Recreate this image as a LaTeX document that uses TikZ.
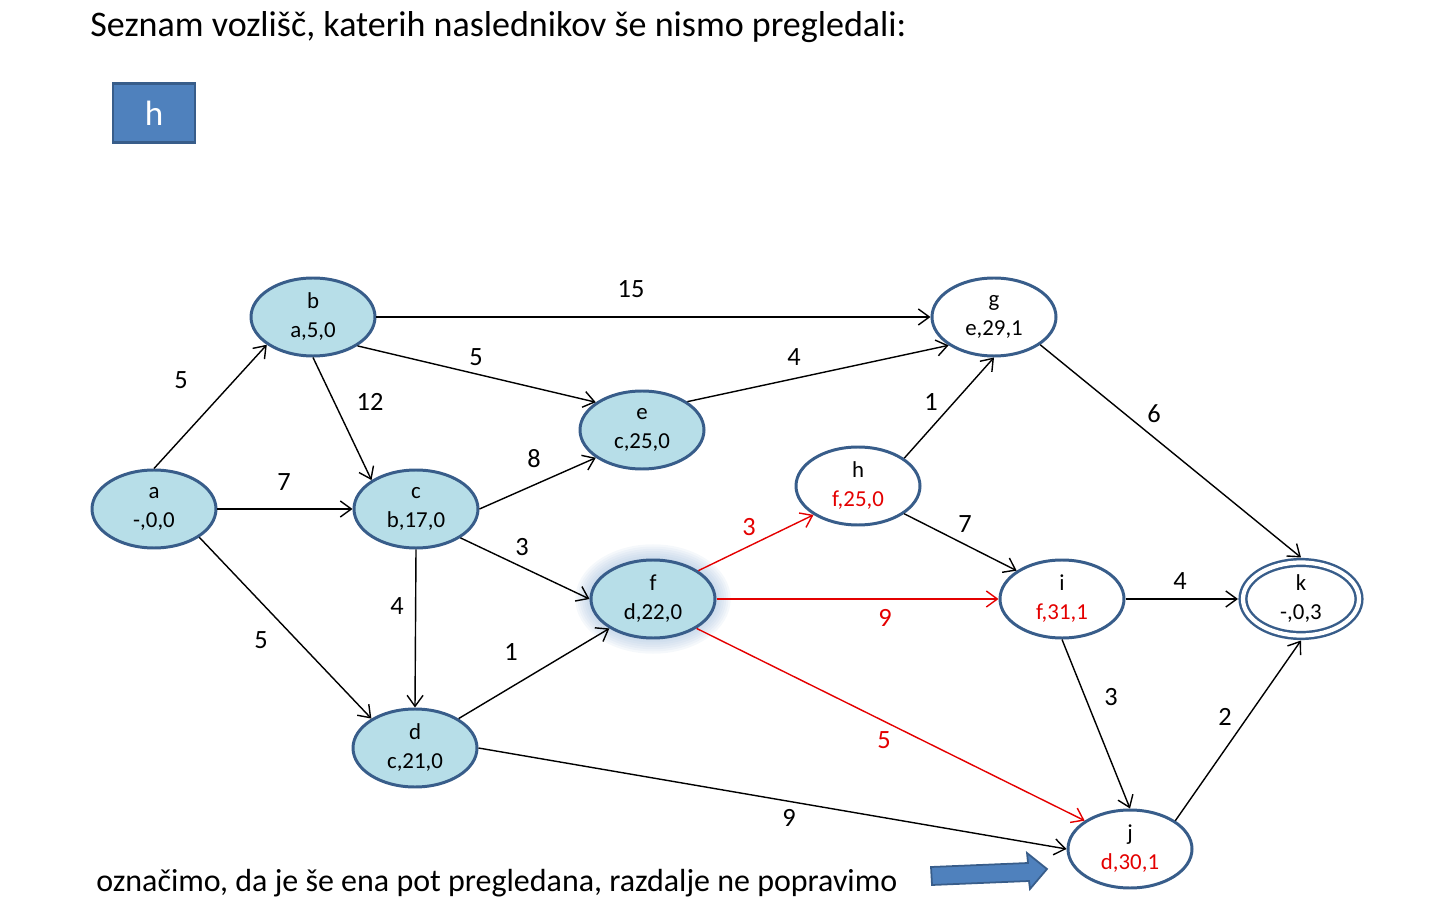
\documentclass[tikz,border=0pt]{standalone}
\usepackage{fontspec}
\setmainfont{Carlito}
\usetikzlibrary{shapes.geometric, arrows.meta, backgrounds}
\definecolor{nodeline}{RGB}{56,93,138}
\definecolor{nodefill}{RGB}{183,222,232}
\definecolor{boxfill}{RGB}{79,129,189}
\definecolor{pathred}{RGB}{228,0,0}

\begin{document}
\begin{tikzpicture}[x=0.2mm, y=-0.2mm,
    vertex/.style=
    {draw=nodeline, line width=1.7pt, ellipse, minimum width=24.8mm, minimum height=15.6mm, inner sep=0pt, align=center, font=\fontsize{13}{16.5}\selectfont},
    seen/.style={vertex, fill=nodefill},
    open/.style={vertex, fill=white},
    lbl/.style={font=\fontsize{15}{17}\selectfont},
    redlbl/.style={lbl, text=pathred},
    link/.style={->, line width=0.8pt},
    redlink/.style={link, draw=pathred},
    >={Straight Barb[length=2.2mm, width=3.2mm]}]
    \useasboundingbox (0,0) rectangle (1452,918);
    \node (title) [anchor=west, inner sep=0pt, font=\fontsize{20.5}{24}\selectfont] at (90,27) {Seznam vozlišč, katerih naslednikov še nismo pregledali:};
    \node (queue) [draw=nodeline, fill=boxfill, line width=1.2pt, minimum width=16.4mm, minimum height=11.8mm, text=white, font=\fontsize{20}{24}\selectfont] at (154,113) {h};
    % vozlisca
    \node (a) [seen] at (154,509) {a\\-,0,0};
    \node (b) [seen] at (313,317) {b\\a,5,0};
    \node (c) [seen] at (416,509) {c\\b,17,0};
    \node (d) [seen] at (415,748) {d\\c,21,0};
    \node (e) [seen] at (642,430) {e\\c,25,0};
    \node (f) [seen] at (653,599) {f\\d,22,0};
    \node (g) [open] at (994,317) {g\\e,29,1};
    \node (h) [open] at (858,486) {h\\\textcolor{pathred}{f,25,0}};
    \node (i) [open] at (1062,599) {i\\\textcolor{pathred}{f,31,1}};
    \node (j) [open] at (1130,849) {j\\\textcolor{pathred}{d,30,1}};
    \node (k) [open, double=white, double distance=2.4pt, line width=1.4pt, minimum width=23.2mm, minimum height=14.6mm, outer sep=1mm] at (1301,599) {k\\-,0,3};
    \begin{scope}[on background layer]
        \foreach \g in {1,...,7}
            \fill[boxfill!60, opacity=0.09] (f.center) ellipse ({12.4mm+\g*0.45mm} and {7.8mm+\g*0.45mm});
    \end{scope}
    % povezave
    \draw[link] (a.north) -- (b.211);
    \draw[link] (a) -- (c);
    \draw[link] (a.328) -- (d.146);
    \draw[link] (b) -- (g);
    \draw[link] (b.327) -- (e.149);
    \draw[link] (b.south) -- (c.147);
    \draw[link] (c.east) -- (e.211);
    \draw[link] (c.327) -- (f.west);
    \draw[link] (c.south) -- (d.north);
    \draw[link] (d.34) -- (f.214);
    \draw[link] (d.east) -- (j.west);
    \draw[link] (e.32) -- (g.212);
    \draw[redlink] (f.32) -- (h.213);
    \draw[redlink] (f) -- (i);
    \draw[redlink] (f.326) -- (j.148);
    \draw[link] (g.329) -- (k.north);
    \draw[link] (h.31) -- (g.south);
    \draw[link] (h.329) -- (i.148);
    \draw[link] (i) -- (k);
    \draw[link] (i.south) -- (j.north);
    \draw[link] (j.32) -- (k.south);
    % utezi
    \node (w-ab) [lbl] at (181,380) {5};
    \node (w-ac) [lbl] at (284,482) {7};
    \node (w-ad) [lbl] at (261,640) {5};
    \node (w-bg) [lbl] at (631,289) {15};
    \node (w-be) [lbl] at (476,357) {5};
    \node (w-bc) [lbl] at (370,402) {12};
    \node (w-ce) [lbl] at (534,459) {8};
    \node (w-cf) [lbl] at (522,547) {3};
    \node (w-cd) [lbl] at (397,606) {4};
    \node (w-df) [lbl] at (511,652) {1};
    \node (w-dj) [lbl] at (789,818) {9};
    \node (w-eg) [lbl] at (794,357) {4};
    \node (w-fh) [redlbl] at (749,527) {3};
    \node (w-fi) [redlbl] at (885,618) {9};
    \node (w-fj) [redlbl] at (884,740) {5};
    \node (w-gk) [lbl] at (1154,414) {6};
    \node (w-hg) [lbl] at (931,402) {1};
    \node (w-hi) [lbl] at (965,524) {7};
    \node (w-ik) [lbl] at (1180,581) {4};
    \node (w-ij) [lbl] at (1111,697) {3};
    \node (w-jk) [lbl] at (1225,717) {2};
    % spodaj
    \node (note) [anchor=west, inner sep=0pt, font=\fontsize{18.2}{22}\selectfont] at (96,883) {označimo, da je še ena pot pregledana, razdalje ne popravimo};
    \draw[nodeline, fill=boxfill, line width=1pt] (931,867) -- (1028,863) -- (1027,853) -- (1047,869) -- (1030,889) -- (1029,881) -- (932,885) -- cycle;
\end{tikzpicture}
\end{document}
